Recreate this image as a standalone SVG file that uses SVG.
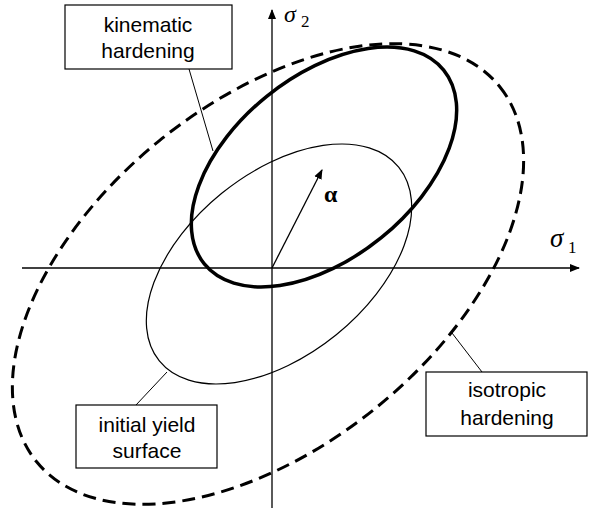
<svg xmlns="http://www.w3.org/2000/svg" width="589" height="512" viewBox="0 0 589 512">
<defs>
<marker id="ah" viewBox="0 0 10 10" refX="9" refY="5" markerWidth="10" markerHeight="10" markerUnits="userSpaceOnUse" orient="auto">
<path d="M0,1 L10,5 L0,9 Z" fill="#000"/>
</marker>
</defs>
<style>
.ax{stroke:#000;stroke-width:1.3;fill:none}
.box{fill:#fff;stroke:#000;stroke-width:1.2}
.lead{stroke:#000;stroke-width:1;fill:none}
.lbl{font-family:"Liberation Sans",Arial,sans-serif;font-size:21px;fill:#000;text-anchor:middle}
.sym{font-family:"Liberation Serif","Times New Roman",serif;fill:#000}
</style>
<rect width="589" height="512" fill="#fff"/>
<g id="curves">
<ellipse id="isotropic" cx="268" cy="274" rx="298" ry="172" transform="rotate(-39 268 274)" fill="none" stroke="#000" stroke-width="3" stroke-dasharray="13 7"/>
<ellipse id="initial" cx="279" cy="264" rx="154" ry="91" transform="rotate(-39 279 264)" fill="none" stroke="#000" stroke-width="1.2"/>
<ellipse id="kinematic" cx="324" cy="167" rx="154" ry="91" transform="rotate(-39 324 167)" fill="none" stroke="#000" stroke-width="3.5"/>
</g>
<g id="connectors">
<line class="ax" x1="22" y1="268" x2="579" y2="268" marker-end="url(#ah)"/>
<line class="ax" x1="272" y1="508" x2="272" y2="10" marker-end="url(#ah)"/>
<line class="ax" x1="272" y1="268" x2="322" y2="170" marker-end="url(#ah)"/>
<line class="lead" x1="189" y1="69" x2="213" y2="151"/>
<line class="lead" x1="136" y1="405" x2="167" y2="372"/>
<line class="lead" x1="482" y1="372" x2="452" y2="333"/>
</g>
<g id="sigma2"><text class="sym" x="284" y="22" font-size="24" font-style="italic">σ</text><text class="sym" x="301" y="27" font-size="17">2</text></g>
<g id="sigma1"><text class="sym" x="550" y="247" font-size="27" font-style="italic">σ</text><text class="sym" x="568" y="253" font-size="17">1</text></g>
<g id="alpha"><text class="sym" x="324" y="202" font-size="24" font-weight="bold">α</text></g>
<g id="kinematic-label">
<rect class="box" x="65" y="5" width="167" height="64"/>
<text class="lbl" x="148" y="32">kinematic</text>
<text class="lbl" x="148" y="58">hardening</text>
</g>
<g id="initial-label">
<rect class="box" x="76" y="405" width="141" height="63"/>
<text class="lbl" x="147" y="432">initial yield</text>
<text class="lbl" x="147" y="458">surface</text>
</g>
<g id="isotropic-label">
<rect class="box" x="426" y="372" width="161" height="64"/>
<text class="lbl" x="507" y="397">isotropic</text>
<text class="lbl" x="507" y="425">hardening</text>
</g>
</svg>
